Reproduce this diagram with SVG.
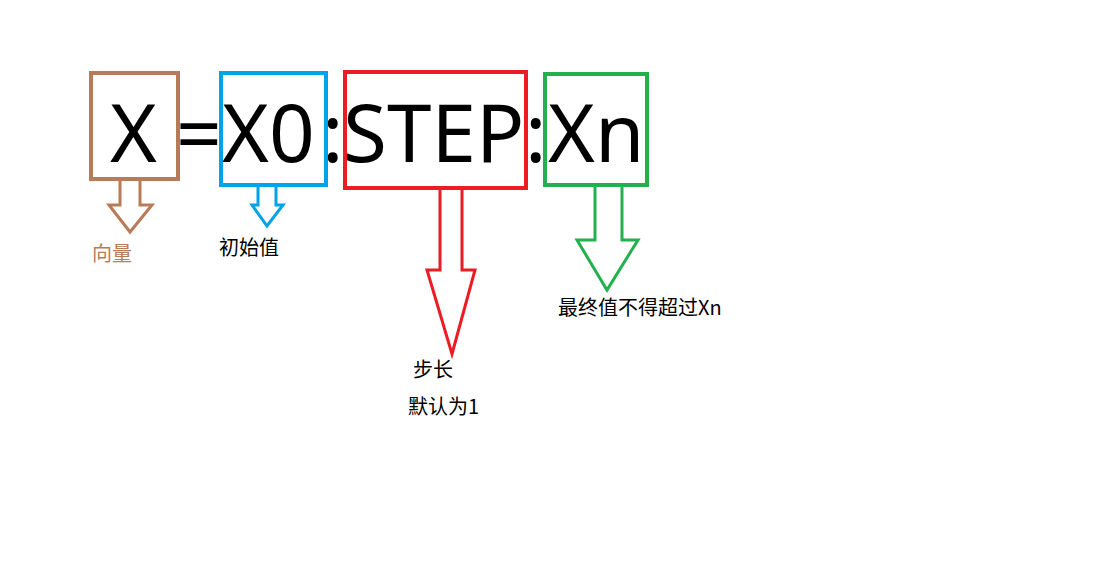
<svg xmlns="http://www.w3.org/2000/svg" width="1104" height="586" viewBox="0 0 1104 586">
<style>
.big{font-family:"Noto Sans","Liberation Sans",sans-serif;font-size:80px;fill:#000}
.lbl{font-family:"Noto Sans CJK SC","Noto Sans",sans-serif;font-size:20px;fill:#000}
.b{fill:none;stroke-width:4}
</style>
<rect width="1104" height="586" fill="#fff"/>
<text class="big" x="110" y="162">X</text>
<text class="big" x="176" y="162">=</text>
<text class="big" x="222" y="162">X0</text>
<text class="big" x="322" y="162">:</text>
<text class="big" x="343" y="162">STEP</text>
<text class="big" x="525" y="162">:</text>
<text class="big" x="548" y="162">Xn</text>
<g id="vec"><rect class="b" x="91" y="73" width="87" height="106" stroke="#b97a57"/><text class="lbl" x="92" y="261" style="fill:#b97a57">向量</text></g>
<g id="init"><rect class="b" x="221" y="73" width="105" height="112" stroke="#00a2e8"/><text class="lbl" x="219" y="255">初始值</text></g>
<g id="step"><rect class="b" x="345" y="72" width="181" height="116" stroke="#ed1c24"/><text class="lbl" x="413" y="377">步长</text><text class="lbl" x="408" y="414">默认为1</text></g>
<g id="end"><rect class="b" x="545" y="74" width="102" height="111" stroke="#22b14c"/><text class="lbl" x="558" y="315">最终值不得超过Xn</text></g>
<g id="connectors" stroke-width="3" fill="none" stroke-linejoin="miter">
<polygon points="120,179 140,179 140,205 152,205 130,232 109,205 120,205" stroke="#b97a57"/>
<polygon points="258,185 276,185 276,205 283,205 267,226 252,205 258,205" stroke="#00a2e8"/>
<polygon points="440,188 462,188 462,270 475,270 452,354 427,270 440,270" stroke="#ed1c24"/>
<polygon points="595,185 622,185 622,240 638,240 607,290 577,240 595,240" stroke="#22b14c"/>
</g>
</svg>
